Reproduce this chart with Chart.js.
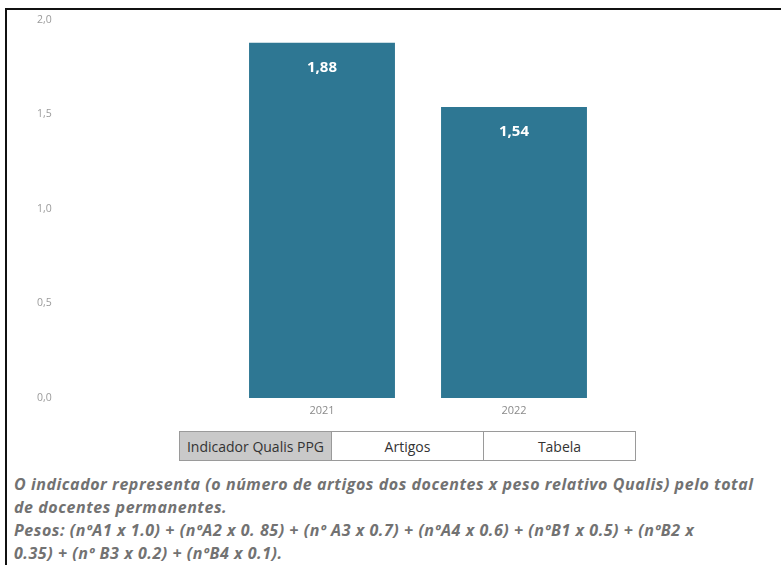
<!DOCTYPE html>
<html>
<head>
<meta charset="utf-8">
<script src="https://cdn.jsdelivr.net/npm/chart.js@4/dist/chart.umd.min.js"></script>
<style>
  html, body { margin: 0; padding: 0; background: #fff; }
  body { width: 781px; height: 565px; position: relative; overflow: hidden; font-family: "Open Sans", "Noto Sans", sans-serif; }
  .frame { position: absolute; left: 5px; top: 8px; right: -4px; bottom: -4px; border-left: 2px solid #111; border-top: 2px solid #111; }
  .chart-box { position: absolute; left: 0; top: 0; width: 781px; height: 420px; }
  .tabs { position: absolute; left: 179px; top: 431px; display: flex; }
  .tabs div { box-sizing: border-box; width: 153px; height: 30px; border: 1px solid #9a9a9a; margin-left: -1px; display: flex; align-items: center; justify-content: center; font-size: 14px; color: #333; background: #fff; }
  .tabs div:first-child { margin-left: 0; }
  .tabs div.active { background: #c9c9c9; }
  .note { position: absolute; left: 14px; top: 473px; font-size: 16px; letter-spacing: 0.55px; line-height: 23px; font-weight: 700; font-style: italic; color: #727272; white-space: nowrap; }
</style>
</head>
<body>
<div class="frame"></div>
<div class="chart-box"><canvas id="c" width="781" height="420"></canvas></div>
<div class="tabs">
  <div class="active">Indicador Qualis PPG</div>
  <div>Artigos</div>
  <div>Tabela</div>
</div>
<div class="note">
O indicador representa (o número de artigos dos docentes x peso relativo Qualis) pelo total<br>
de docentes permanentes.<br>
Pesos: (nºA1 x 1.0) + (nºA2 x 0. 85) + (nº A3 x 0.7) + (nºA4 x 0.6) + (nºB1 x 0.5) + (nºB2 x<br>
0.35) + (nº B3 x 0.2) + (nºB4 x 0.1).
</div>
<script>
// Indicador Qualis PPG por ano
const years = ['2021', '2022'];
const indicador = [1.88, 1.54];
const yTicks = [0, 0.5, 1.0, 1.5, 2.0];

const fmt = v => v.toFixed(2).replace('.', ',');
const fmtTick = v => v.toFixed(1).replace('.', ',');

// white value labels inside the top of each bar
const valueLabels = {
  id: 'valueLabels',
  afterDatasetsDraw(chart) {
    const ctx = chart.ctx;
    const meta = chart.getDatasetMeta(0);
    ctx.save();
    ctx.fillStyle = '#ffffff';
    ctx.font = 'bold 15px "Open Sans", sans-serif';
    ctx.textAlign = 'center';
    ctx.textBaseline = 'middle';
    meta.data.forEach((bar, i) => {
      ctx.fillText(fmt(chart.data.datasets[0].data[i]), bar.x, bar.y + 25);
    });
    ctx.restore();
  }
};

new Chart(document.getElementById('c'), {
  type: 'bar',
  data: {
    labels: years,
    datasets: [{
      data: indicador,
      backgroundColor: '#2e7793',
      borderWidth: 0,
      categoryPercentage: 0.76,
      barPercentage: 1.0
    }]
  },
  options: {
    responsive: false,
    animation: false,
    layout: { padding: { left: 37, right: 171, top: 20, bottom: 0 } },
    plugins: { legend: { display: false }, tooltip: { enabled: false } },
    scales: {
      x: {
        grid: { display: false, drawTicks: false },
        border: { display: false },
        ticks: { color: '#8a8a8a', font: { size: 11, family: '"Open Sans", sans-serif' }, padding: 6 },
        afterFit(s) { s.height = 22; }
      },
      y: {
        min: 0, max: 2.0,
        grid: { display: false, drawTicks: false },
        border: { display: false },
        afterBuildTicks(s) { s.ticks = yTicks.map(v => ({ value: v })); },
        ticks: {
          color: '#9a9a9a',
          font: { size: 10.5, family: '"Open Sans", sans-serif' },
          crossAlign: 'far',
          callback: v => fmtTick(v)
        },
        afterFit(s) { s.width = 189; }
      }
    }
  },
  plugins: [valueLabels]
});
</script>
</body>
</html>
